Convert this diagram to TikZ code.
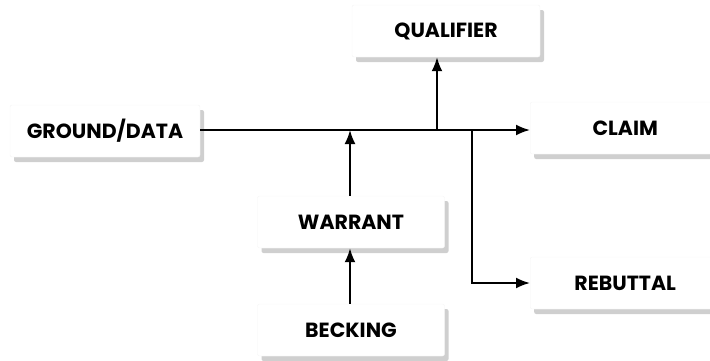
\documentclass[tikz,border=0pt]{standalone}
\usepackage{fontspec}
\setmainfont{Poppins}
\usetikzlibrary{arrows.meta,shadows}
\begin{document}
\begin{tikzpicture}[x=1pt,y=-1pt,
  box/.style={draw=gray!8, fill=white, rounded corners=2pt, minimum height=52pt,
    font=\fontsize{20.5}{20.5}\selectfont\bfseries,
    drop shadow={shadow xshift=4pt, shadow yshift=-5pt, fill=gray!38, opacity=1}},
  conn/.style={line width=2pt, -{Latex[length=14pt,width=11pt]}}]
\useasboundingbox (0,0) rectangle (710,360);
\node[box, minimum width=190pt] (gd) at (105,131) {GROUND/DATA};
\node[box, minimum width=188pt] (qu) at (446,31) {QUALIFIER};
\node[box, minimum width=190pt, anchor=west] (cl) at (530,128) {CLAIM};
\node[box, minimum width=187pt] (wa) at (351,222) {WARRANT};
\node[box, minimum width=187pt] (be) at (351,330) {BECKING};
\node[box, minimum width=190pt, anchor=west] (re) at (530,283) {REBUTTAL};
\coordinate (jw) at (350,130);
\coordinate (jq) at (437,130);
\coordinate (jr) at (472,130);
\draw[conn] (gd.east |- 0,130) -- (cl.west |- 0,130);
\draw[conn] (jq) -- (jq |- qu.south);
\draw[conn] (wa.north -| jw) -- (jw);
\draw[conn] (be.north -| jw) -- (wa.south -| jw);
\draw[conn] (jr) |- (re.west);
\end{tikzpicture}
\end{document}
